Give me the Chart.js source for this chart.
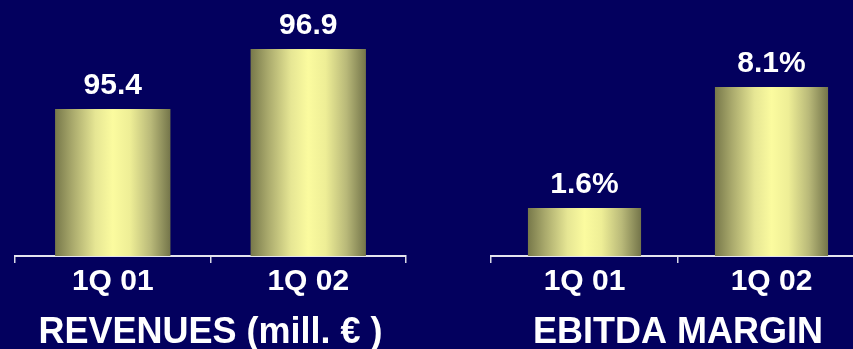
<!DOCTYPE html>
<html>
<head>
    <meta charset="UTF-8">
    <title>Revenues and EBITDA margin</title>
    <script src="https://cdn.jsdelivr.net/npm/chart.js"></script>
    <style>
        html, body {
            margin: 0;
            padding: 0;
            width: 853px;
            height: 349px;
            overflow: hidden;
            background-color: #03005e;
        }

        .box {
            position: absolute;
            top: 0;
            height: 349px;
        }

        #left-box { left: 0; width: 430px; }
        #right-box { left: 430px; width: 450px; }
    </style>
</head>
<body>
<div id="left-box" class="box"><canvas id="revChart"></canvas></div>
<div id="right-box" class="box"><canvas id="ebitdaChart"></canvas></div>

<script>
    const quarters = ['1Q 01', '1Q 02'];
    const revenues = [95.4, 96.9];
    const ebitdaMargin = [1.6, 8.1];

    const FONT = '"Liberation Sans", Arial, sans-serif';

    // gold shading across each bar: dark edges, bright middle
    function barShade(c) {
        const chart = c.chart;
        const xs = chart.scales.x;
        if (!xs || !chart.chartArea) return '#fbfb9f';
        const ds = chart.data.datasets[c.datasetIndex];
        const w = xs.width / chart.data.labels.length * ds.barPercentage;
        const mid = xs.getPixelForValue(c.dataIndex);
        const g = chart.ctx.createLinearGradient(mid - w / 2, 0, mid + w / 2, 0);
        g.addColorStop(0, '#77784a');
        g.addColorStop(0.15, '#a9a96c');
        g.addColorStop(0.35, '#e6e694');
        g.addColorStop(0.5, '#fbfb9f');
        g.addColorStop(0.65, '#eeee96');
        g.addColorStop(0.83, '#b9b979');
        g.addColorStop(1, '#74754a');
        return g;
    }

    const valueLabels = {
        id: 'valueLabels',
        afterDatasetsDraw(chart, args, opts) {
            const ctx = chart.ctx;
            const values = chart.data.datasets[0].data;
            ctx.save();
            ctx.font = 'bold 30px ' + FONT;
            ctx.fillStyle = '#ffffff';
            ctx.textAlign = 'center';
            ctx.textBaseline = 'alphabetic';
            chart.getDatasetMeta(0).data.forEach((bar, i) => {
                ctx.fillText(values[i].toFixed(1) + (opts.suffix || ''), bar.x, bar.y - 15);
            });
            ctx.restore();
        }
    };

    function makeChart(id, values, title, yMin, yMax, pad, barPct, suffix) {
        const ctx = document.getElementById(id).getContext('2d');
        return new Chart(ctx, {
            type: 'bar',
            data: {
                labels: quarters,
                datasets: [{
                    data: values,
                    base: yMin,
                    backgroundColor: barShade,
                    borderWidth: 0,
                    categoryPercentage: 1,
                    barPercentage: barPct
                }]
            },
            options: {
                responsive: true,
                maintainAspectRatio: false,
                animation: false,
                layout: { padding: { left: pad[0], right: pad[1], top: 0, bottom: 0 } },
                scales: {
                    x: {
                        offset: true,
                        grid: {
                            offset: true,
                            drawOnChartArea: false,
                            drawTicks: true,
                            tickLength: 7,
                            color: '#d8d8e4',
                            lineWidth: 1.5
                        },
                        border: { display: true, color: '#e4e4ee', width: 2 },
                        ticks: {
                            color: '#ffffff',
                            font: { family: FONT, size: 30, weight: 'bold', lineHeight: 1.2 },
                            padding: 1,
                            maxRotation: 0,
                            autoSkip: false
                        },
                        title: {
                            display: true,
                            text: title,
                            color: '#ffffff',
                            font: { family: FONT, size: 36, weight: 'bold', lineHeight: 1 },
                            padding: { top: 0, bottom: -2 }
                        },
                        afterFit(scale) {
                            scale.height = 93;
                        }
                    },
                    y: {
                        display: false,
                        min: yMin,
                        max: yMax
                    }
                },
                plugins: {
                    legend: { display: false },
                    tooltip: { enabled: false },
                    valueLabels: { suffix: suffix }
                }
            },
            plugins: [valueLabels]
        });
    }

    makeChart('revChart', revenues, 'REVENUES (mill. € )', 91.725, 98.125, [15, 24], 0.59, '');
    makeChart('ebitdaChart', ebitdaMargin, 'EBITDA MARGIN', -0.98, 12.77, [61, 15], 0.605, '%');
</script>
</body>
</html>
